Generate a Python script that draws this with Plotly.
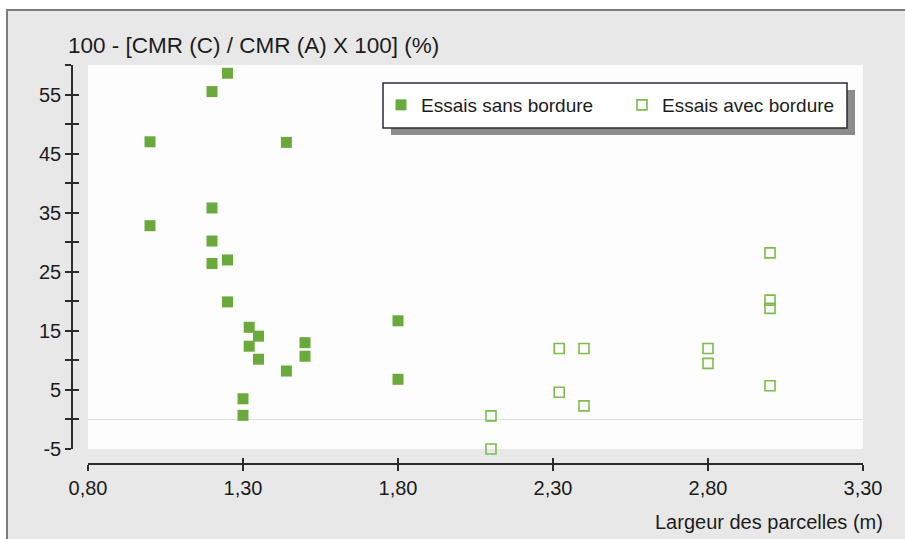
import plotly.graph_objects as go

# Essais sans bordure (filled squares)
sans_x = [1.00, 1.00, 1.20, 1.25, 1.20, 1.20, 1.20, 1.25, 1.25, 1.32, 1.32,
          1.35, 1.35, 1.30, 1.30, 1.44, 1.44, 1.50, 1.50, 1.80, 1.80]
sans_y = [47.0, 32.8, 55.5, 58.6, 35.8, 30.2, 26.4, 27.0, 19.9, 15.6, 12.4,
          14.1, 10.2, 3.5, 0.7, 8.2, 46.9, 13.0, 10.7, 16.7, 6.8]

# Essais avec bordure (open squares)
avec_x = [2.10, 2.10, 2.32, 2.32, 2.40, 2.40, 2.80, 2.80, 3.00, 3.00, 3.00, 3.00]
avec_y = [0.6, -5.0, 12.0, 4.6, 12.0, 2.3, 12.0, 9.5, 28.2, 20.2, 18.8, 5.7]

x_ticks = [0.80, 1.30, 1.80, 2.30, 2.80, 3.30]
x_ticktext = ["0,80", "1,30", "1,80", "2,30", "2,80", "3,30"]
y_ticks = [-5, 0, 5, 10, 15, 20, 25, 30, 35, 40, 45, 50, 55, 60]
y_ticktext = ["-5", "", "5", "", "15", "", "25", "", "35", "", "45", "", "55", ""]

W, H = 905, 539
ML, MR, MT, MB = 72, 42, 65, 75
PW, PH = W - ML - MR, H - MT - MB


def px(x):
    return (x - ML) / PW


def py(y):
    return (H - MB - y) / PH


GREEN = "#6aaa3c"
GREEN_OPEN = "#7cbb4c"
INK = "#1c1c1c"
AXIS = "#2b2b2b"
FONT = "Liberation Sans, Arial, sans-serif"

fig = go.Figure()
fig.add_trace(go.Scatter(
    x=sans_x, y=sans_y, mode="markers", name="Essais sans bordure",
    marker=dict(symbol="square", size=11, color=GREEN, line=dict(width=0)),
    cliponaxis=False,
))
fig.add_trace(go.Scatter(
    x=avec_x, y=avec_y, mode="markers", name="Essais avec bordure",
    marker=dict(symbol="square-open", size=10, color=GREEN_OPEN,
                line=dict(width=1.6, color=GREEN_OPEN)),
    cliponaxis=False,
))
# companion axes carrying the inner half of the tick marks
fig.add_trace(go.Scatter(x=[], y=[], xaxis="x2", yaxis="y2", showlegend=False,
                         hoverinfo="skip"))

xdom = [px(88), 1.0]
ydom = [py(449), 1.0]
axis_common = dict(showgrid=False, linecolor=AXIS, linewidth=1.6,
                   tickcolor=AXIS, tickwidth=1.6, ticklen=6)

fig.update_layout(
    width=W, height=H,
    margin=dict(l=ML, r=MR, t=MT, b=MB, pad=0),
    paper_bgcolor="white",
    plot_bgcolor="rgba(0,0,0,0)",
    font=dict(family=FONT, color=INK, size=19),
    xaxis=dict(domain=xdom, range=[0.8, 3.3], anchor="free", position=0,
               showline=True, ticks="outside", tickmode="array",
               tickvals=x_ticks, ticktext=x_ticktext, zeroline=False,
               tickfont=dict(size=20, color=INK), **axis_common),
    yaxis=dict(domain=ydom, range=[-5, 60], anchor="free", position=0,
               showline=True, ticks="outside", tickmode="array",
               tickvals=y_ticks, ticktext=y_ticktext,
               zeroline=True, zerolinecolor="#dddddd", zerolinewidth=1,
               tickfont=dict(size=20, color=INK), **axis_common),
    xaxis2=dict(overlaying="x", range=[0.8, 3.3], anchor="free", position=0,
                showline=False, ticks="inside", tickmode="array",
                tickvals=x_ticks, showticklabels=False, zeroline=False,
                **axis_common),
    yaxis2=dict(overlaying="y", range=[-5, 60], anchor="free", position=0,
                showline=False, ticks="inside", tickmode="array",
                tickvals=y_ticks, showticklabels=False, zeroline=False,
                **axis_common),
    showlegend=True,
    legend=dict(orientation="h", x=px(381), y=py(86),
                xanchor="left", yanchor="top",
                bgcolor="rgba(0,0,0,0)", borderwidth=0,
                font=dict(size=19, color=INK),
                entrywidth=196, itemwidth=30),
)

shapes = [
    # outer framed panel
    dict(type="rect", xref="paper", yref="paper", layer="below",
         x0=px(7), x1=px(W + 10), y0=py(H + 10), y1=py(10),
         fillcolor="#e8e8e8", line=dict(color="#7c7c7c", width=2)),
    # white plotting area
    dict(type="rect", xref="paper", yref="paper", layer="below",
         x0=xdom[0], x1=xdom[1], y0=ydom[0], y1=ydom[1],
         fillcolor="#fdfdfd", line=dict(width=0)),
    # legend drop shadow
    dict(type="rect", xref="paper", yref="paper", layer="below",
         x0=px(391), x1=px(855), y0=py(135), y1=py(90),
         fillcolor="#8c8c8c", line=dict(width=0)),
    # legend box
    dict(type="rect", xref="paper", yref="paper", layer="below",
         x0=px(383), x1=px(847), y0=py(128), y1=py(83),
         fillcolor="white", line=dict(color="#2a2a3a", width=1.5)),
]
fig.update_layout(shapes=shapes)

fig.add_annotation(text="100 - [CMR (C) / CMR (A) X 100] (%)",
                   xref="paper", yref="paper", x=px(66), y=py(45),
                   xanchor="left", yanchor="middle", showarrow=False,
                   font=dict(size=22.5, color=INK))
fig.add_annotation(text="Largeur des parcelles (m)",
                   xref="paper", yref="paper", x=px(885), y=py(522),
                   xanchor="right", yanchor="middle", showarrow=False,
                   font=dict(size=20, color=INK))

fig.write_html("out.html")
